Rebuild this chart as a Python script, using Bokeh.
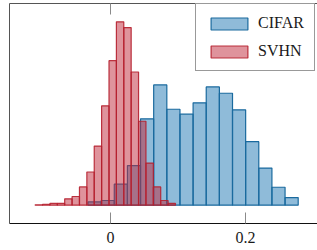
import numpy as np
from bokeh.plotting import figure
from bokeh.models import Range1d, LinearAxis, FixedTicker, Legend, LegendItem
from bokeh.embed import file_html
from bokeh.resources import INLINE

# ---- data (histogram counts) ----
series_names = ["CIFAR", "SVHN"]

svhn_min, svhn_max = -0.1116, 0.0963          # 19 equal-width bins
svhn_counts = [3, 7, 17, 17, 62, 85, 179, 326, 581, 976, 1420, 1802,
               1746, 1309, 825, 414, 179, 46, 17]

cifar_min, cifar_max = -0.0333, 0.2781        # 16 equal-width bins
cifar_counts = [32, 46, 206, 389, 849, 1182, 943, 894, 1006, 1162,
                1100, 937, 624, 365, 176, 75]

x_ticks = [0, 0.2]
x_tick_labels = ["0", "0.2"]

# ---- bin edges ----
svhn_edges = np.linspace(svhn_min, svhn_max, len(svhn_counts) + 1)
cifar_edges = np.linspace(cifar_min, cifar_max, len(cifar_counts) + 1)

ymax = max(max(svhn_counts), max(cifar_counts))

W, H = 317, 250
p = figure(width=W, height=H, output_backend="svg", toolbar_location=None,
           x_range=Range1d(-0.1496, 0.3067),
           y_range=Range1d(-0.1 * ymax, 1.1 * ymax),
           x_axis_location=None, y_axis_location=None,
           min_border_left=9, min_border_right=0, min_border_top=3,
           min_border_bottom=27)
p.grid.visible = False
p.outline_line_color = None
p.background_fill_color = "white"
p.border_fill_color = "white"

FONT = "Liberation Serif"

xb = LinearAxis(ticker=FixedTicker(ticks=x_ticks),
                major_label_overrides={t: l for t, l in zip(x_ticks, x_tick_labels)},
                major_tick_in=11, major_tick_out=0,
                minor_tick_in=0, minor_tick_out=0,
                major_label_standoff=8,
                major_label_text_font=FONT,
                major_label_text_font_size="16px",
                major_label_text_color="#1a1a1a",
                axis_line_color="#111111", axis_line_width=1,
                major_tick_line_color="#8a8a8a", major_tick_line_width=1)
p.add_layout(xb, "below")

xt = LinearAxis(ticker=FixedTicker(ticks=x_ticks),
                major_label_overrides={t: "" for t in x_ticks},
                major_tick_in=11, major_tick_out=0,
                minor_tick_in=0, minor_tick_out=0,
                major_label_standoff=0,
                major_label_text_font_size="0px",
                axis_line_color="#555555", axis_line_width=1,
                major_tick_line_color="#8a8a8a", major_tick_line_width=1)
p.add_layout(xt, "above")

yl = LinearAxis(ticker=FixedTicker(ticks=[]),
                major_tick_in=0, major_tick_out=0,
                minor_tick_in=0, minor_tick_out=0,
                major_label_standoff=0,
                major_label_text_font_size="0px",
                axis_line_color="#555555", axis_line_width=1)
p.add_layout(yl, "left")

rb = p.quad(left=cifar_edges[:-1], right=cifar_edges[1:], bottom=0, top=cifar_counts,
            fill_color="#1f77b4", fill_alpha=0.5,
            line_color="#1a6a9e", line_width=1.2)
rr = p.quad(left=svhn_edges[:-1], right=svhn_edges[1:], bottom=0, top=svhn_counts,
            fill_color="#c0283a", fill_alpha=0.5,
            line_color="#b51f2e", line_alpha=0.9, line_width=1.2)

legend = Legend(items=[LegendItem(label=series_names[0], renderers=[rb]),
                       LegendItem(label=series_names[1], renderers=[rr])],
                location=(186, 152), margin=0,
                border_line_color="#333333", border_line_width=1,
                background_fill_color="white", background_fill_alpha=1,
                label_text_font=FONT, label_text_font_size="16px",
                label_text_color="#1a1a1a",
                glyph_width=46, glyph_height=15, label_standoff=6,
                padding=10, spacing=10, label_height=15)
p.add_layout(legend)

open("out.html", "w").write(file_html(p, INLINE, title="hist"))
